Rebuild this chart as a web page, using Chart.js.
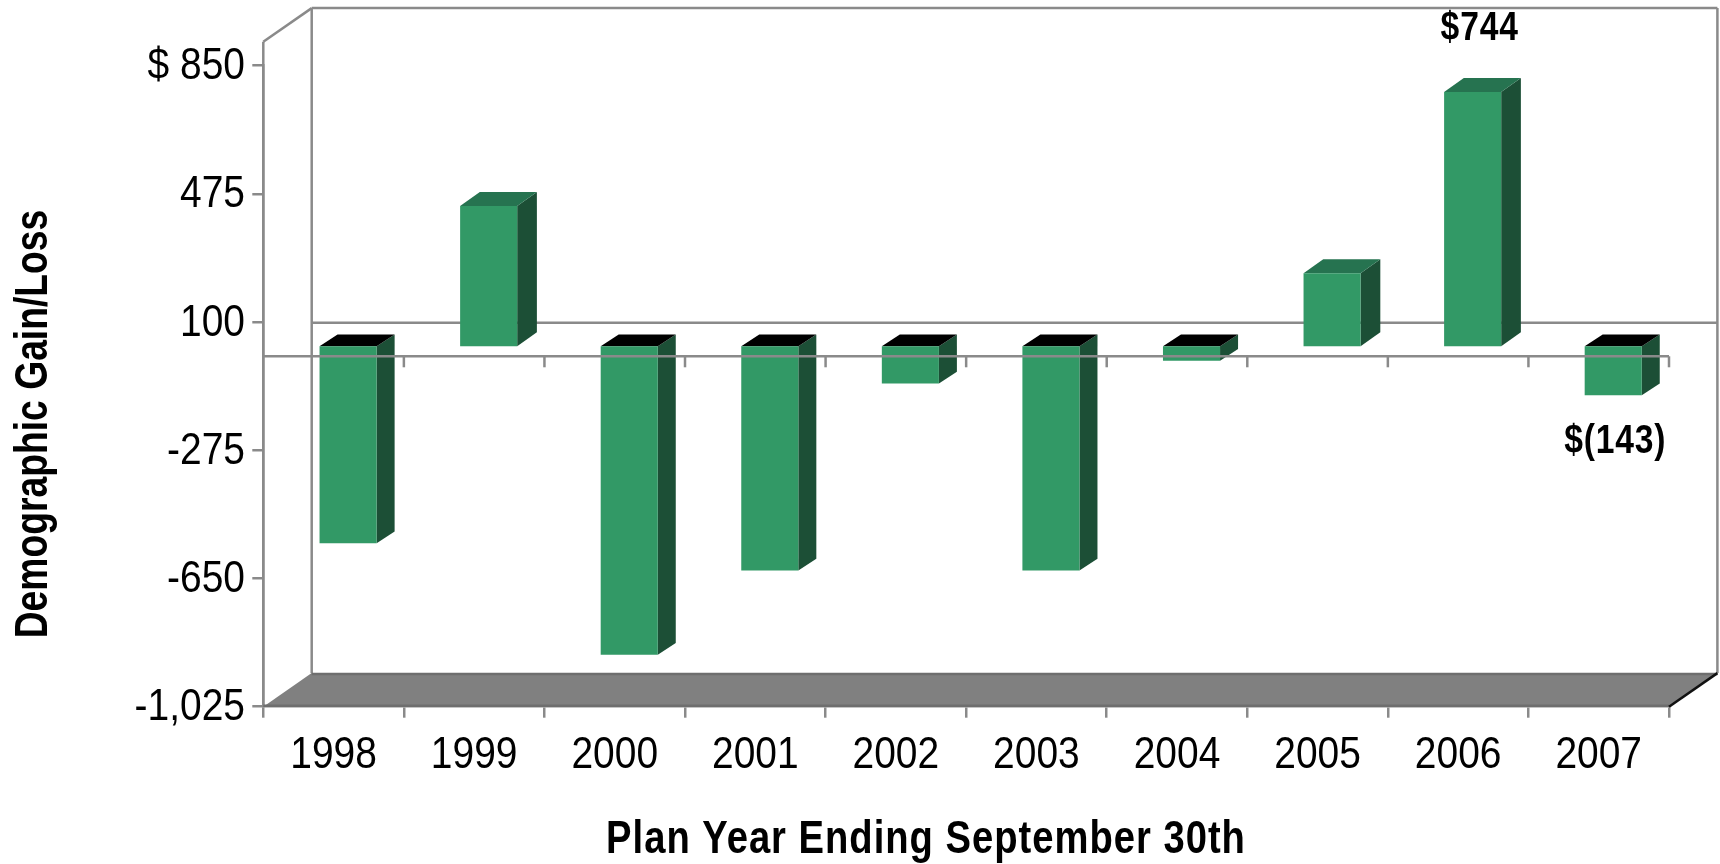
<!DOCTYPE html>
<html>
<head>
<meta charset="utf-8">
<script src="https://cdn.jsdelivr.net/npm/chart.js@4"></script>
<style>
  html, body { margin: 0; padding: 0; background: #fff; }
  canvas { display: block; }
</style>
</head>
<body>
<canvas id="chart" width="1720" height="864"></canvas>
<script>
const categories = ['1998', '1999', '2000', '2001', '2002', '2003', '2004', '2005', '2006', '2007'];
const gainLoss = [-576, 410, -902, -656, -109, -656, -42, 214, 744, -143];
const barLabels = [null, null, null, null, null, null, null, null, '$744', '$(143)'];
const yTickLabels = ['-1,025', '-650', '-275', '100', '475', '$ 850'];
const xTitle = 'Plan Year Ending September 30th';
const yTitle = 'Demographic Gain/Loss';

const FONT = '"Liberation Sans", sans-serif';
const GREY = '#8a8a8a';
// depth of the fake 3d box
const WALL_DX = 48.4, WALL_DY = -33.6;
const BAR_DX = 14.5, BAR_DY = -10;

function line(ctx, x1, y1, x2, y2) {
  ctx.beginPath();
  ctx.moveTo(x1, y1);
  ctx.lineTo(x2, y2);
  ctx.stroke();
}

function poly(ctx, pts, fill) {
  ctx.fillStyle = fill;
  ctx.beginPath();
  pts.forEach((p, i) => i ? ctx.lineTo(p[0], p[1]) : ctx.moveTo(p[0], p[1]));
  ctx.closePath();
  ctx.fill();
}

// no narrow font is installed, so squeeze the text sideways
function narrowText(ctx, text, x, y, squeeze) {
  ctx.save();
  ctx.translate(x, y);
  ctx.scale(squeeze, 1);
  ctx.fillText(text, 0, 0);
  ctx.restore();
}

const box3d = {
  id: 'box3d',
  beforeDatasetsDraw(chart) {
    const { ctx, chartArea: a, scales } = chart;
    const zero = scales.y.getPixelForValue(0);
    const wallTop = a.top - 24;
    ctx.save();
    ctx.strokeStyle = GREY;
    ctx.lineWidth = 2.5;
    // walls
    line(ctx, a.left, wallTop, a.left, a.bottom);
    line(ctx, a.left, wallTop, a.left + WALL_DX, wallTop + WALL_DY);
    line(ctx, a.left + WALL_DX, wallTop + WALL_DY, a.left + WALL_DX, a.bottom + WALL_DY);
    line(ctx, a.left + WALL_DX, wallTop + WALL_DY, a.right + WALL_DX, wallTop + WALL_DY);
    line(ctx, a.right + WALL_DX, wallTop + WALL_DY, a.right + WALL_DX, a.bottom + WALL_DY);
    // floor
    poly(ctx, [[a.left, a.bottom], [a.left + WALL_DX, a.bottom + WALL_DY],
      [a.right + WALL_DX, a.bottom + WALL_DY], [a.right, a.bottom]], '#808080');
    ctx.strokeStyle = '#6e6e6e';
    line(ctx, a.left + WALL_DX, a.bottom + WALL_DY + 1, a.right + WALL_DX, a.bottom + WALL_DY + 1);
    line(ctx, a.left, a.bottom - 1, a.right, a.bottom - 1);
    ctx.strokeStyle = '#111';
    line(ctx, a.right, a.bottom, a.right + WALL_DX, a.bottom + WALL_DY);
    // zero line on the back wall
    ctx.strokeStyle = GREY;
    line(ctx, a.left + WALL_DX, zero + WALL_DY, a.right + WALL_DX, zero + WALL_DY);

    // bar sides and caps
    const bars = chart.getDatasetMeta(0).data;
    ctx.translate(BAR_DX, BAR_DY);
    bars.forEach(bar => {
      const { x, y, base, width } = bar.getProps(['x', 'y', 'base', 'width'], true);
      const l = x - width / 2, r = x + width / 2;
      const top = Math.min(y, base), bottom = Math.max(y, base);
      const up = y < base;
      const sx = up ? 19.7 : 18, sy = up ? -14 : -11.7;
      poly(ctx, [[r, top], [r + sx, top + sy], [r + sx, bottom + sy], [r, bottom]], '#1c4f36');
      poly(ctx, [[l, top], [l + sx, top + sy], [r + sx, top + sy], [r, top]], up ? '#267350' : '#000000');
    });
    ctx.restore();

    ctx.save();
    ctx.translate(BAR_DX, BAR_DY);
  },
  afterDatasetsDraw(chart) {
    const { ctx, chartArea: a, scales } = chart;
    ctx.restore();

    // the front zero line with its ticks runs over the bars
    const zero = scales.y.getPixelForValue(0);
    const step = (a.right - a.left) / categories.length;
    ctx.save();
    ctx.strokeStyle = GREY;
    ctx.lineWidth = 2.5;
    line(ctx, a.left, zero, a.right, zero);
    categories.forEach((c, i) => {
      const x = scales.x.getPixelForValue(i) + step / 2;
      line(ctx, x, zero, x, zero + 11);
    });
    ctx.restore();

    ctx.save();
    ctx.fillStyle = '#000';
    ctx.textBaseline = 'alphabetic';

    // tick labels
    ctx.font = '44px ' + FONT;
    ctx.textAlign = 'center';
    categories.forEach((c, i) => {
      narrowText(ctx, c, scales.x.getPixelForValue(i), 768.3, 0.885);
    });
    ctx.textAlign = 'right';
    scales.y.ticks.forEach((t, i) => {
      narrowText(ctx, yTickLabels[i], 245, scales.y.getPixelForValue(t.value) + 13.5, 0.885);
    });

    // value labels sit outside the bars
    const bars = chart.getDatasetMeta(0).data;
    ctx.textAlign = 'center';
    ctx.font = 'bold 41px ' + FONT;
    ctx.letterSpacing = '1px';
    barLabels.forEach((text, i) => {
      if (!text) return;
      const up = gainLoss[i] > 0;
      narrowText(ctx, text, bars[i].x + BAR_DX + (up ? 7 : 2), bars[i].y + BAR_DY + (up ? -52 : 58), 0.82);
    });

    // axis titles
    ctx.font = 'bold 46px ' + FONT;
    ctx.letterSpacing = '1.2px';
    narrowText(ctx, xTitle, 926, 852.7, 0.83);
    ctx.letterSpacing = '0px';
    ctx.translate(46.7, 424);
    ctx.rotate(-Math.PI / 2);
    narrowText(ctx, yTitle, 0, 0, 0.81);
    ctx.restore();
  }
};

new Chart(document.getElementById('chart'), {
  type: 'bar',
  data: {
    labels: categories,
    datasets: [{
      data: gainLoss,
      backgroundColor: '#329966',
      categoryPercentage: 1,
      barPercentage: 0.406
    }]
  },
  options: {
    responsive: false,
    animation: false,
    layout: { padding: { top: 65.7, right: 51, left: 0, bottom: 0 } },
    plugins: { legend: { display: false }, tooltip: { enabled: false } },
    scales: {
      x: {
        afterFit(scale) { scale.height = 157.3; },
        grid: { drawOnChartArea: false, color: GREY, lineWidth: 2.5, tickLength: 11, offset: true },
        border: { color: GREY, width: 2.5 },
        ticks: { display: false }
      },
      y: {
        min: -1025,
        max: 850,
        afterFit(scale) { scale.width = 263.3; },
        grid: { drawOnChartArea: false, color: GREY, lineWidth: 2.5, tickLength: 11 },
        border: { color: GREY, width: 2.5 },
        ticks: { display: false, stepSize: 375 }
      }
    }
  },
  plugins: [box3d]
});
</script>
</body>
</html>
